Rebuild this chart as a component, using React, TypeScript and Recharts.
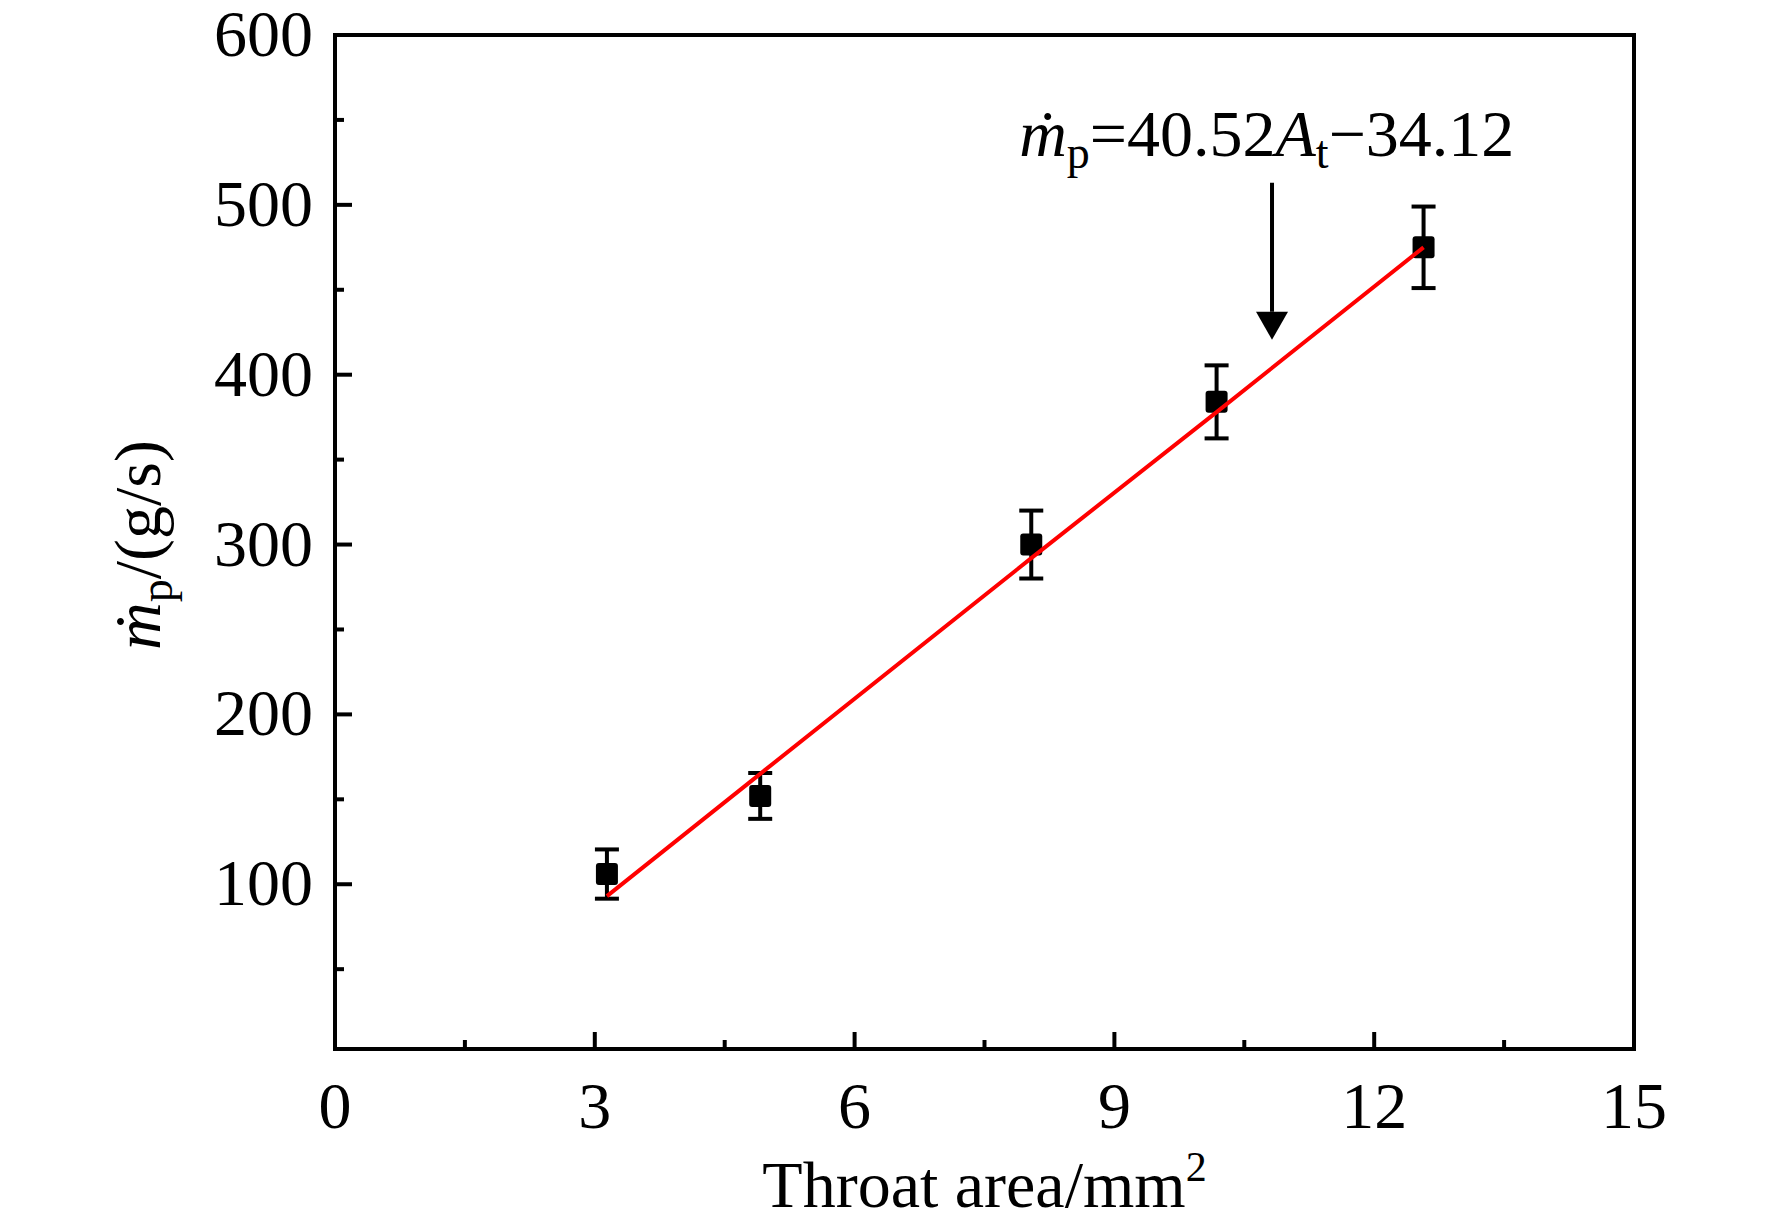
import {
  ScatterChart,
  Scatter,
  XAxis,
  YAxis,
  ErrorBar,
  ReferenceArea,
  ReferenceLine,
  ReferenceDot,
} from "recharts";

const FONT = "'Liberation Serif', 'Times New Roman', serif";

// measured points
const throatArea = [3.14, 4.91, 8.04, 10.18, 12.57];
const massFlow = [106, 152, 300, 384, 475];
const massFlowErr = [14.5, 13.5, 20, 21.5, 24];
// red fit line
const fitFlow = [93, 165, 292, 378, 475];

const xTicks = [0, 1.5, 3, 4.5, 6, 7.5, 9, 10.5, 12, 13.5, 15];
const xMajor = [0, 3, 6, 9, 12, 15];
const yTicks = [50, 100, 150, 200, 250, 300, 350, 400, 450, 500, 550, 600];
const yMajor = [100, 200, 300, 400, 500, 600];

// annotation anchor points (data units)
const arrowX = 10.82;
const arrowTop = 513;
const arrowBase = 437;
const eqX = 7.9;
const eqY = 529;

const points = throatArea.map((x, i) => ({ x, y: massFlow[i], err: massFlowErr[i] }));
const fit = throatArea.map((x, i) => ({ x, y: fitFlow[i] }));

function XTick({ x, y, payload }: any) {
  const major = xMajor.includes(payload.value);
  return (
    <g>
      <line x1={x} x2={x} y1={y} y2={y - (major ? 17 : 9)} stroke="#000" strokeWidth={4} />
      {major && (
        <text x={x} y={y + 79} textAnchor="middle" fontSize={66} fontFamily={FONT} fill="#000">
          {payload.value}
        </text>
      )}
    </g>
  );
}

function YTick({ x, y, payload }: any) {
  const major = yMajor.includes(payload.value);
  return (
    <g>
      <line x1={x} x2={x + (major ? 17 : 9)} y1={y} y2={y} stroke="#000" strokeWidth={4} />
      {major && (
        <text x={x - 22} y={y + 21} textAnchor="end" fontSize={66} fontFamily={FONT} fill="#000">
          {payload.value}
        </text>
      )}
    </g>
  );
}

function XLabel({ viewBox }: any) {
  const cx = viewBox.x + viewBox.width / 2;
  return (
    <text x={cx} y={viewBox.y + 158} textAnchor="middle" fontSize={66} fontFamily={FONT} fill="#000">
      Throat area/mm
      <tspan fontSize={42} dy={-26}>2</tspan>
    </text>
  );
}

function YLabel({ viewBox }: any) {
  const cx = viewBox.x + 25;
  const cy = viewBox.y + viewBox.height / 2 + 3;
  return (
    <text
      x={cx}
      y={cy}
      transform={`rotate(-90, ${cx}, ${cy})`}
      textAnchor="middle"
      fontSize={66}
      fontFamily={FONT}
      fill="#000"
    >
      <tspan fontStyle="italic">ṁ</tspan>
      <tspan fontSize={46} dy={12}>p</tspan>
      <tspan dy={-12}>/(g/s)</tspan>
    </text>
  );
}

const squareShape = (p: any) => (
  <rect x={p.cx - 11} y={p.cy - 11} width={22} height={22} rx={3} fill="#000" />
);

const arrowHead = (p: any) => (
  <polygon
    points={`${p.cx - 16},${p.cy} ${p.cx + 16},${p.cy} ${p.cx},${p.cy + 28}`}
    fill="#000"
  />
);

const equation = (p: any) => (
  <text x={p.cx} y={p.cy} fontSize={66} fontFamily={FONT} fill="#000">
    <tspan fontStyle="italic">ṁ</tspan>
    <tspan fontSize={46} dy={12}>p</tspan>
    <tspan dy={-12}>=40.52</tspan>
    <tspan fontStyle="italic">A</tspan>
    <tspan fontSize={46} dy={12}>t</tspan>
    <tspan dy={-12}>−34.12</tspan>
  </text>
);

export default function App() {
  // negative top margin leaves headroom in the svg for the "600" label
  return (
    <div style={{ marginTop: -30 }}>
      <ScatterChart
        width={1756}
        height={1242}
        margin={{ top: 57, right: 130, bottom: 11, left: 127 }}
        style={{ fontFamily: FONT }}
      >
        <XAxis
          type="number"
          dataKey="x"
          domain={[0, 15]}
          ticks={xTicks}
          interval={0}
          height={160}
          axisLine={false}
          tickLine={false}
          tickSize={0}
          tickMargin={0}
          tick={<XTick />}
          label={XLabel}
        />
        <YAxis
          type="number"
          dataKey="y"
          domain={[3, 600]}
          ticks={yTicks}
          interval={0}
          width={200}
          axisLine={false}
          tickLine={false}
          tickSize={0}
          tickMargin={0}
          tick={<YTick />}
          label={YLabel}
        />
        <ReferenceArea x1={0} x2={15} y1={3} y2={600} fill="none" stroke="#000" strokeWidth={4} />
        <Scatter data={points} shape={squareShape} isAnimationActive={false}>
          <ErrorBar dataKey="err" direction="y" width={12} stroke="#000" strokeWidth={4} isAnimationActive={false} />
        </Scatter>
        <Scatter
          data={fit}
          line={{ stroke: "#ff0000", strokeWidth: 4 }}
          shape={() => <g />}
          isAnimationActive={false}
        />
        <ReferenceLine
          segment={[
            { x: arrowX, y: arrowTop },
            { x: arrowX, y: arrowBase },
          ]}
          stroke="#000"
          strokeWidth={4}
        />
        <ReferenceDot x={arrowX} y={arrowBase} shape={arrowHead} />
        <ReferenceDot x={eqX} y={eqY} shape={equation} />
      </ScatterChart>
    </div>
  );
}
